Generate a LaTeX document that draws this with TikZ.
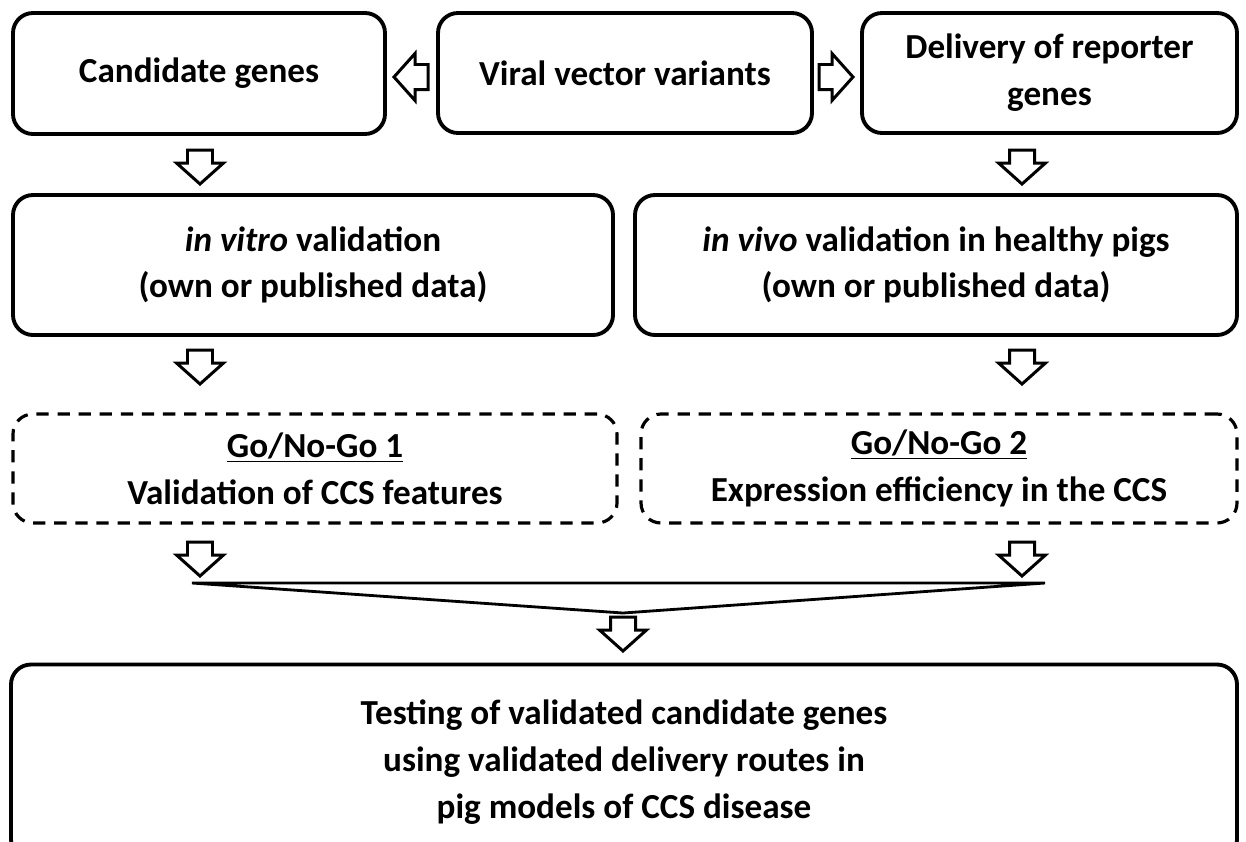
\documentclass[tikz,border=0pt]{standalone}
\usepackage{fontspec}
\setmainfont{Carlito}

\begin{document}
\begin{tikzpicture}[
        stage box/.style={draw, line width=2.2pt, rounded corners=0.4cm, align=center,
            font=\bfseries\fontsize{20}{26.6}\selectfont},
        gate box/.style={stage box, line width=1.8pt, dash pattern=on 7pt off 5pt},
        arrow outline/.style={draw, line width=1.7pt, fill=white, line join=miter},
        block arrow/.pic={
            \draw[arrow outline] (-0.25,0) -- (0.25,0) -- (0.25,-0.26) -- (0.47,-0.26)
                -- (0,-0.68) -- (-0.47,-0.26) -- (-0.25,-0.26) -- cycle;
        },
        merge line/.style={line width=1.6pt}
    ]
    \useasboundingbox (0,0) rectangle (24.92,-16.82);

    % top row
    \node[stage box, minimum width=7.44cm, minimum height=2.42cm] (cand) at (3.98,-1.47) {Candidate genes};
    \node[stage box, minimum width=7.48cm, minimum height=2.40cm] (viral) at (12.5,-1.46) {Viral vector variants};
    \node[stage box, minimum width=7.50cm, minimum height=2.40cm] (deliv) at (20.99,-1.46) {Delivery of reporter\\genes};
    \pic[rotate=-90] (toleft) at (8.56,-1.54) {block arrow};
    \pic[rotate=90] (toright) at (16.38,-1.54) {block arrow};

    % validation
    \pic (a1) at (4.0,-3.0) {block arrow};
    \pic (a2) at (20.44,-3.0) {block arrow};
    \node[stage box, minimum width=12.0cm, minimum height=2.8cm] (vitro) at (6.26,-5.3)
        {\textit{in vitro} validation\\(own or published data)};
    \node[stage box, minimum width=12.04cm, minimum height=2.8cm] (vivo) at (18.72,-5.3)
        {\textit{in vivo} validation in healthy pigs\\(own or published data)};

    % go / no-go
    \pic (a3) at (4.0,-7.0) {block arrow};
    \pic (a4) at (20.44,-7.0) {block arrow};
    \node[gate box, minimum width=12.08cm, minimum height=2.18cm] (go1) at (6.3,-9.37)
        {\underline{Go/No-Go 1}\\Validation of CCS features};
    \node[gate box, minimum width=11.92cm, minimum height=2.18cm] (go2) at (18.78,-9.37)
        {\underline{Go/No-Go 2}\\Expression efficiency in the CCS};

    % merge
    \pic (a5) at (4.0,-10.84) {block arrow};
    \pic (a6) at (20.44,-10.84) {block arrow};
    \coordinate (m1) at (3.84,-11.66);
    \coordinate (m2) at (20.9,-11.66);
    \coordinate (m3) at (12.46,-12.26);
    \draw[merge line] (m1) -- (m2) -- (m3) -- cycle;
    \pic (a7) at (12.46,-12.34) {block arrow};

    \node[stage box, minimum width=24.52cm, minimum height=3.9cm] (testing) at (12.48,-15.24)
        {Testing of validated candidate genes\\using validated delivery routes in\\pig models of CCS disease};
\end{tikzpicture}
\end{document}
